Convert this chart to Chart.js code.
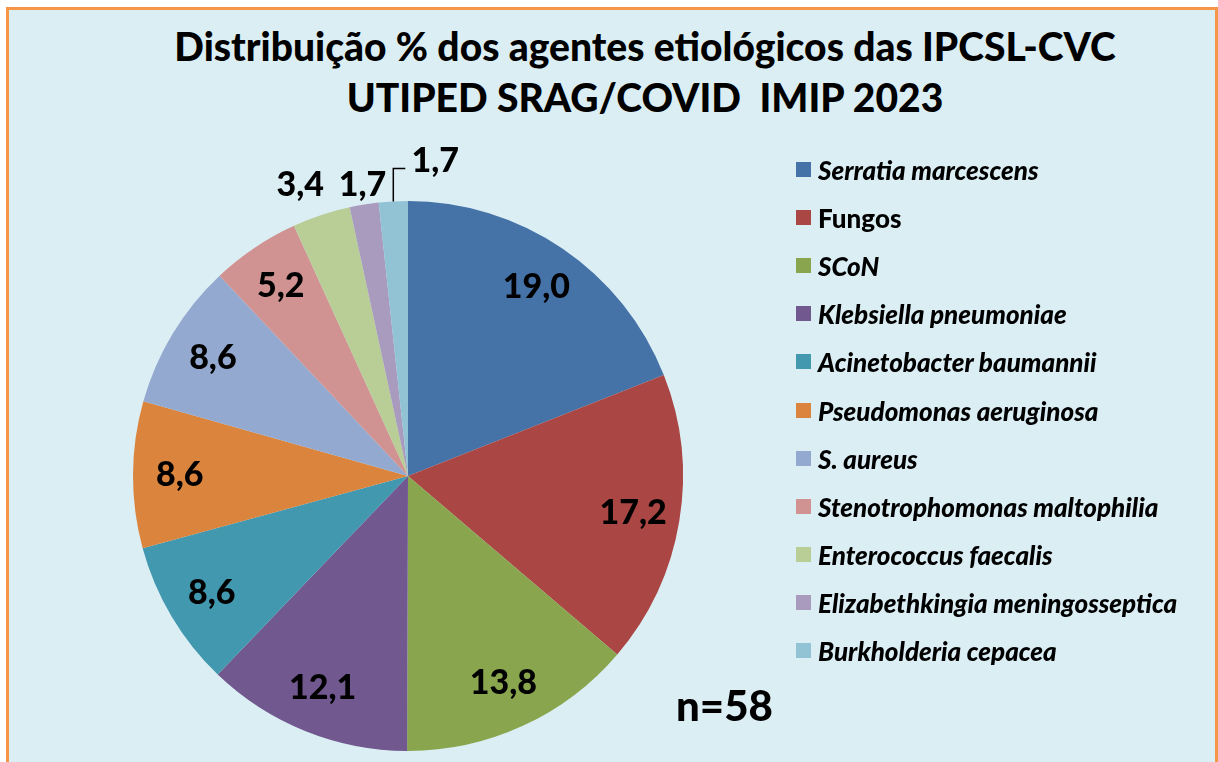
<!DOCTYPE html>
<html>
<head>
<meta charset="utf-8">
<script src="https://cdn.jsdelivr.net/npm/chart.js"></script>
<style>
  html, body { margin: 0; padding: 0; background: #ffffff; }
  body { width: 1218px; height: 762px; position: relative; overflow: hidden; font-family: Lato, "Open Sans", sans-serif; }
  .frame {
    position: absolute; left: 6px; top: 7px; width: 1206px; height: 780px;
    border: 3px solid #f79646; background: #dbeef4;
  }
  .title {
    position: absolute; left: 0; width: 1290px; text-align: center;
    font-weight: 900; font-size: 39px; color: #000; white-space: pre; line-height: 1;
  }
  #legend { position: absolute; left: 796px; top: 0; }
  .item { position: absolute; left: 0; white-space: nowrap; height: 24px; }
  .item .sw { position: absolute; left: 0; top: 4px; width: 15px; height: 15px; }
  .item .tx { position: absolute; left: 22px; top: -4px; font-size: 26px; font-weight: 900; color: #000; }
  .nlabel { position: absolute; left: 676px; top: 680px; font-size: 42px; font-weight: 900; }
  canvas { position: absolute; left: 0; top: 0; }
</style>
</head>
<body>
<div class="frame"></div>
<div class="title" style="top:27px">Distribuição % dos agentes etiológicos das IPCSL-CVC</div>
<div class="title" style="top:78px">UTIPED SRAG/COVID  IMIP 2023</div>
<canvas id="pie" width="1218" height="762"></canvas>
<div id="legend"></div>
<div class="nlabel">n=58</div>
<script>
const categories = [
  'Serratia marcescens', 'Fungos', 'SCoN', 'Klebsiella pneumoniae',
  'Acinetobacter baumannii', 'Pseudomonas aeruginosa', 'S. aureus',
  'Stenotrophomonas maltophilia', 'Enterococcus faecalis',
  'Elizabethkingia meningosseptica', 'Burkholderia cepacea'
];
const percents = [19.0, 17.2, 13.8, 12.1, 8.6, 8.6, 8.6, 5.2, 3.4, 1.7, 1.7];
const italicNames = [true, false, true, true, true, true, true, true, true, true, true];
const colors = [
  '#4572a7', '#aa4643', '#89a54e', '#71588f', '#4198af', '#db843d',
  '#93a9cf', '#d19392', '#b9cd96', '#a99bbd', '#92c3d5'
];

// legend (html so that names can be italic one by one)
const legend = document.getElementById('legend');
categories.forEach(function(name, i) {
  const row = document.createElement('div');
  row.className = 'item';
  row.style.top = (158 + i * 48.1) + 'px';
  row.innerHTML = '<span class="sw" style="background:' + colors[i] + '"></span>' +
    '<span class="tx" style="font-style:' + (italicNames[i] ? 'italic' : 'normal') + '">' + name + '</span>';
  legend.appendChild(row);
});

const fmt = v => v.toFixed(1).replace('.', ',');

// value labels drawn from the arc elements
const pieLabels = {
  id: 'pieLabels',
  afterDatasetsDraw(chart) {
    const ctx = chart.ctx;
    const arcs = chart.getDatasetMeta(0).data;
    ctx.save();
    ctx.font = '900 34px Lato, "Open Sans", sans-serif';
    ctx.fillStyle = '#000';
    ctx.textAlign = 'center';
    ctx.textBaseline = 'middle';
    arcs.forEach(function(arc, i) {
      const p = arc.getProps(['x', 'y', 'startAngle', 'endAngle', 'outerRadius']);
      const mid = (p.startAngle + p.endAngle) / 2;
      const R = p.outerRadius;
      const txt = fmt(percents[i]);
      if (i === arcs.length - 1) {
        // leader line for the last thin slice
        const ax = p.x + Math.cos(mid) * R, ay = p.y + Math.sin(mid) * R;
        ctx.strokeStyle = '#000';
        ctx.lineWidth = 1.5;
        ctx.beginPath();
        ctx.moveTo(ax, ay);
        ctx.lineTo(ax, ay - 33);
        ctx.lineTo(ax + 12, ay - 33);
        ctx.stroke();
        ctx.fillText(txt, ax + 42, ay - 40);
      } else if (percents[i] < 4) {
        const last2 = i === arcs.length - 2;
        const r = R + (last2 ? 22 : 38);
        ctx.fillText(txt, p.x + Math.cos(mid) * r - (last2 ? -2 : 9), p.y + Math.sin(mid) * r + (last2 ? 2 : 6));
      } else {
        const r = R * 0.83;
        ctx.fillText(txt, p.x + Math.cos(mid) * r, p.y + Math.sin(mid) * r);
      }
    });
    ctx.restore();
  }
};

new Chart(document.getElementById('pie'), {
  type: 'pie',
  data: {
    labels: categories,
    datasets: [{
      data: percents,
      backgroundColor: colors,
      borderWidth: 0
    }]
  },
  options: {
    responsive: false,
    animation: false,
    layout: { padding: { left: 133, right: 535, top: 201, bottom: 11 } },
    plugins: {
      legend: { display: false },
      tooltip: { enabled: false }
    }
  },
  plugins: [pieLabels]
});
</script>
</body>
</html>
